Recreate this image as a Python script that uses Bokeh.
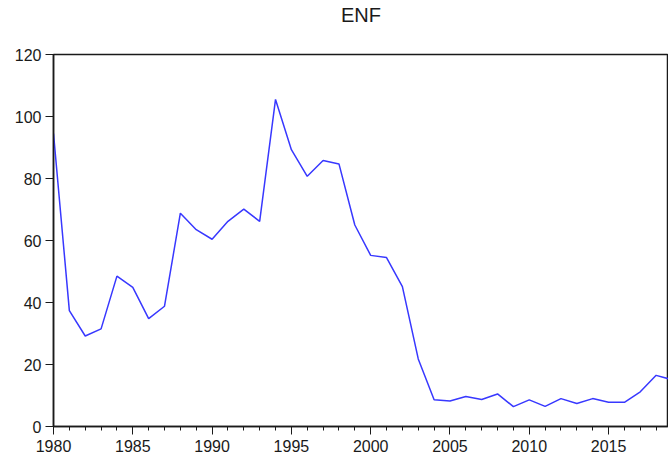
from bokeh.plotting import figure
from bokeh.models import Range1d, FixedTicker, LinearAxis
from bokeh.embed import file_html
from bokeh.resources import INLINE

years = list(range(1980, 2020))
enf = [94.5, 37.4, 29.2, 31.5, 48.5, 44.9, 34.8, 38.8, 68.8, 63.5,
       60.4, 66.2, 70.1, 66.2, 105.5, 89.3, 80.7, 85.8, 84.7, 65.0,
       55.2, 54.5, 45.1, 21.8, 8.6, 8.2, 9.7, 8.7, 10.5, 6.4,
       8.6, 6.5, 9.0, 7.4, 9.0, 7.8, 7.8, 11.2, 16.5, 15.1]
y_ticks = [0, 20, 40, 60, 80, 100, 120]
x_ticks = [1980, 1985, 1990, 1995, 2000, 2005, 2010, 2015]
title_text = "ENF"

FONT = "Liberation Sans"

p = figure(width=668, height=464, output_backend="svg", toolbar_location=None,
           x_range=Range1d(1980, 2018.78), y_range=Range1d(0, 120),
           min_border_left=53, min_border_right=0, min_border_top=54,
           min_border_bottom=38)
p.background_fill_color = "white"
p.border_fill_color = "white"
p.outline_line_color = "#1a1a1a"
p.outline_line_width = 1.5
p.xgrid.grid_line_color = None
p.ygrid.grid_line_color = None

xax = p.below[0]
yax = p.left[0]

# title drawn as the label of an otherwise empty top axis
top = LinearAxis(ticker=FixedTicker(ticks=[]), axis_label=title_text,
                 axis_line_color=None, major_tick_line_color=None,
                 minor_tick_line_color=None, major_tick_out=0, minor_tick_out=0,
                 major_tick_in=0, minor_tick_in=0,
                 axis_label_standoff=29,
                 axis_label_text_font=FONT, axis_label_text_font_size="20px",
                 axis_label_text_font_style="normal",
                 axis_label_text_color="#1a1a1a")
p.add_layout(top, "above")

p.line(years, enf, line_color="#3838ff", line_width=1.5)

for ax in (xax, yax):
    ax.axis_line_color = "#1a1a1a"
    ax.axis_line_width = 1.5
    ax.major_tick_line_color = "#1a1a1a"
    ax.minor_tick_line_color = "#1a1a1a"
    ax.major_tick_in = 0
    ax.minor_tick_in = 0
    ax.major_label_text_font = FONT
    ax.major_label_text_font_size = "16px"
    ax.major_label_text_color = "#1a1a1a"

yax.ticker = FixedTicker(ticks=y_ticks)
yax.major_tick_out = 8
yax.minor_tick_out = 0
yax.major_label_standoff = 4

xax.ticker = FixedTicker(ticks=x_ticks, minor_ticks=years)
xax.major_tick_out = 8
xax.minor_tick_out = 4
xax.major_label_standoff = 5

open("out.html", "w").write(file_html(p, INLINE))
